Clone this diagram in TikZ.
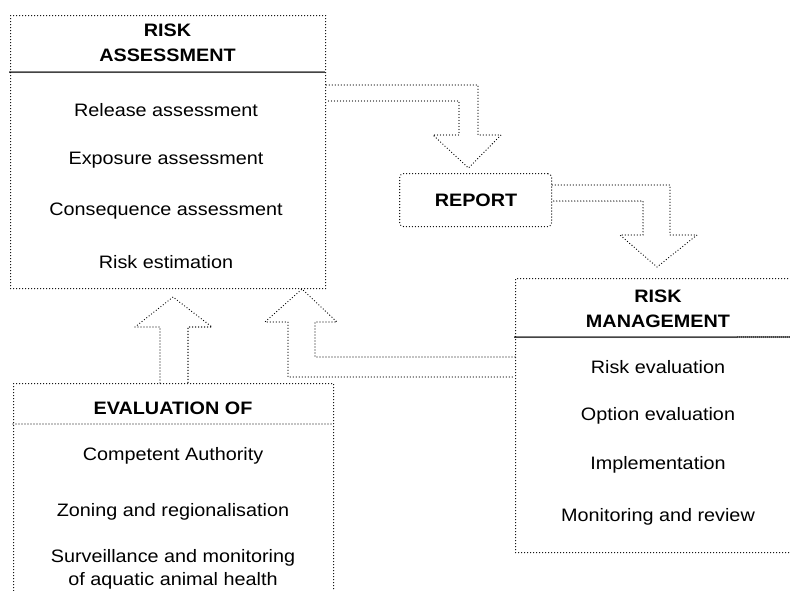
\documentclass[tikz,border=0pt]{standalone}
\usepackage{fontspec}
\setmainfont[FakeStretch=1.1]{Liberation Sans}
\begin{document}
\begin{tikzpicture}[x=1pt,y=-1pt,
  dots/.style={line cap=round, dash pattern=on 0pt off 3pt, line width=1.3pt},
  box/.style={draw, dots, rectangle, inner sep=0pt, anchor=north west},
  divider/.style={line cap=round, dash pattern=on 0pt off 2pt, line width=2pt},
  thindivider/.style={dots},
  blockarrow/.style={draw, dots, line join=miter},
  hdr/.style={font=\fontsize{18}{25}\selectfont\bfseries, align=center, inner sep=0pt},
  item/.style={font=\fontsize{18}{23}\selectfont, align=center, inner sep=0pt}
]
\useasboundingbox (0,0) rectangle (790,590);
\clip (0,0) rectangle (790,590);
\fill[white] (0,0) rectangle (790,590);

% Risk assessment box
\node[box, minimum width=315pt, minimum height=273pt] (ra) at (10,15) {};
\draw[divider] (10,72) -- (325,72);
\node[hdr] (rat) at (167.5,43) {RISK\\ASSESSMENT};
\node[item] (ra1) at (166,110) {Release assessment};
\node[item] (ra2) at (166,160) {Exposure assessment};
\node[item] (ra3) at (166,211) {Consequence assessment};
\node[item] (ra4) at (166,262) {Risk estimation};

% Report box
\node[box, rounded corners=4pt, minimum width=152pt, minimum height=53pt] (rep) at (399,173) {};
\node[hdr] (rept) at (476,200) {REPORT};

% Risk management box
\node[box, minimum width=290pt, minimum height=274pt] (rm) at (515,278) {};
\draw[divider] (515,337) -- (800,337);
\node[hdr] (rmt) at (658,309) {RISK\\MANAGEMENT};
\node[item] (rm1) at (658,367) {Risk evaluation};
\node[item] (rm2) at (658,416) {Option evaluation};
\node[item] (rm3) at (658,465) {Implementation};
\node[item] (rm4) at (658,517) {Monitoring and review};

% Evaluation box
\node[box, minimum width=320pt, minimum height=230pt] (ev) at (13,383) {};
\draw[thindivider] (13,424) -- (333,424);
\node[hdr] (evt) at (173,408) {EVALUATION OF};
\node[item] (ev1) at (173,456) {Competent Authority};
\node[item] (ev2) at (173,512) {Zoning and regionalisation};
\node[item] (ev3) at (173,569) {Surveillance and monitoring\\of aquatic animal health};

% Block arrows
\draw[blockarrow] (ra.east |- 0,85) -- (478,85) -- (478,135) -- (501,135) -- (468.5,168)
  -- (433,135) -- (459,135) -- (459,101) -- (ra.east |- 0,101);
\draw[blockarrow] (rep.east |- 0,185) -- (670,185) -- (670,235) -- (697,235) -- (657,267)
  -- (620,235) -- (643,235) -- (643,201) -- (rep.east |- 0,201);
\draw[blockarrow] (rm.west |- 0,357) -- (315,357) -- (315,322) -- (337,322) -- (302,289)
  -- (265,322) -- (288,322) -- (288,377) -- (rm.west |- 0,377);
\draw[blockarrow] (160,0 |- ev.north) -- (160,327) -- (135,327) -- (173,297) -- (212,327)
  -- (188,327) -- (188,0 |- ev.north);
\end{tikzpicture}
\end{document}
